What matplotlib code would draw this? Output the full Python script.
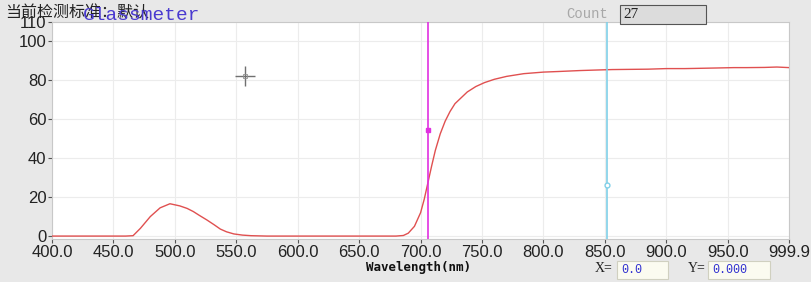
import matplotlib
matplotlib.use("Agg")
import matplotlib.pyplot as plt
from matplotlib.patches import Rectangle

# ---- data ----
wavelength = [400, 420, 440, 460, 466, 472, 480, 488, 496, 504, 510, 515, 520, 526, 532, 537,
              542, 548, 555, 562, 575, 600, 630, 660, 680, 686, 690, 695, 700, 703, 706,
              709, 712, 716, 720, 724, 728, 733, 738, 745, 752, 760, 770, 784, 800, 812,
              830, 845, 856, 870, 885, 900, 915, 924, 940, 955, 965, 980, 990, 1000]
transmit = [0.0, 0.0, 0.0, 0.0, 0.2, 4.0, 10.0, 14.5, 16.6, 15.5, 14.2, 12.6, 10.6, 8.3, 5.8, 3.6,
            2.2, 1.1, 0.5, 0.2, 0.0, 0.0, 0.0, 0.0, 0.0, 0.3, 1.5, 5.0, 12.0, 19.0, 27.5,
            36.0, 44.0, 52.5, 59.0, 64.0, 68.0, 71.0, 74.0, 76.8, 78.8, 80.5, 82.0, 83.4, 84.2, 84.5,
            85.0, 85.3, 85.5, 85.6, 85.7, 86.0, 86.0, 86.1, 86.3, 86.5, 86.5, 86.6, 86.8, 86.5]
xticks = [400, 450, 500, 550, 600, 650, 700, 750, 800, 850, 900, 950, 999.9]
xticklabels = ["400.0", "450.0", "500.0", "550.0", "600.0", "650.0", "700.0", "750.0",
               "800.0", "850.0", "900.0", "950.0", "999.9"]
yticks = [0, 20, 40, 60, 80, 100, 110]
cursor1_x, cursor1_y = 706, 54.4
cursor2_x, cursor2_y = 852, 26.4
cross_x, cross_y = 556.7, 82.4

bg = "#e8e8e8"
fig = plt.figure(figsize=(8.11, 2.82), dpi=100, facecolor=bg)
ax = fig.add_axes([0.0641, 0.1525, 0.909, 0.770])
ax.set_facecolor("white")
ax.set_xlim(400, 1000)
ax.set_ylim(-1.5, 110)

ax.set_xticks(xticks)
ax.set_xticklabels(xticklabels, family="Liberation Sans", fontsize=12, color="#222222")
ax.set_yticks(yticks)
ax.set_yticklabels([str(v) for v in yticks], family="Liberation Sans", fontsize=12, color="#222222")
ax.tick_params(axis="both", direction="out", length=3, width=0.8, color="#555555", pad=1)
ax.grid(True, color="#ececec", lw=0.8)
ax.set_axisbelow(True)
for s in ax.spines.values():
    s.set_color("#c8c8c8")
    s.set_linewidth(0.8)

ax.plot(wavelength, transmit, color="#e05050", lw=1.0, zorder=3)
ax.axvline(cursor1_x, color="#e030e0", lw=1.2, zorder=4)
ax.plot([cursor1_x], [cursor1_y], marker="s", ms=3, color="#e030e0", zorder=5)
ax.axvline(cursor2_x, color="#80d0e8", lw=1.2, zorder=4)
ax.plot([cursor2_x], [cursor2_y], marker="o", ms=3.5, mfc="white", mec="#80d0e8", zorder=5)
ax.plot([cross_x], [cross_y], marker="+", ms=14, mew=1.0, color="#707070", zorder=5)
ax.plot([cross_x], [cross_y], marker="s", ms=3, mfc="none", mec="#909090", mew=0.6, zorder=5)

# texts
fig.text(418 / 811, 1 - 268 / 282, "Wavelength(nm)", family="DejaVu Sans Mono", weight="bold",
         fontsize=9, ha="center", va="center", color="#111111")
fig.text(-0.004, 1 - 115 / 282, "T(%)", rotation=90, family="DejaVu Sans", weight="bold",
         fontsize=9, ha="center", va="center", color="#111111")
fig.text(5 / 811, 1 - 13 / 282, "当前检测标准：默认", family=["Noto Sans CJK SC", "DejaVu Sans"],
         fontsize=11.5, ha="left", va="center", color="#222222")
fig.text(83 / 811, 1 - 15 / 282, "Glassmeter", family="Liberation Mono", fontsize=14,
         ha="left", va="center", color="#4a3ad0")
fig.text(566 / 811, 1 - 14 / 282, "Count", family="Liberation Mono", fontsize=10,
         ha="left", va="center", color="#a8a8a8")

# boxes
def box(x0, y0, x1, y1, face, edge):
    fig.patches.append(Rectangle((x0 / 811, 1 - y1 / 282), (x1 - x0) / 811, (y1 - y0) / 282,
                                 transform=fig.transFigure, facecolor=face, edgecolor=edge,
                                 lw=0.8, figure=fig))

box(620, 5, 706, 24, "#dcdcdc", "#555555")
fig.text(623 / 811, 1 - 15 / 282, "27", family="Liberation Serif", fontsize=11,
         ha="left", va="center", color="#222222")

box(617, 261, 668, 279, "#fbfbf0", "#d0d0c0")
box(708, 261, 770, 279, "#fbfbf0", "#d0d0c0")
fig.text(595 / 811, 1 - 268 / 282, "X=", family="Liberation Serif", fontsize=10,
         ha="left", va="center", color="#222222")
fig.text(688 / 811, 1 - 268 / 282, "Y=", family="Liberation Serif", fontsize=10,
         ha="left", va="center", color="#222222")
fig.text(621 / 811, 1 - 270 / 282, "0.0", family="Liberation Mono", fontsize=8.5,
         ha="left", va="center", color="#3030d0")
fig.text(712 / 811, 1 - 270 / 282, "0.000", family="Liberation Mono", fontsize=8.5,
         ha="left", va="center", color="#3030d0")

fig.savefig("out.png", dpi=100, facecolor=bg)
